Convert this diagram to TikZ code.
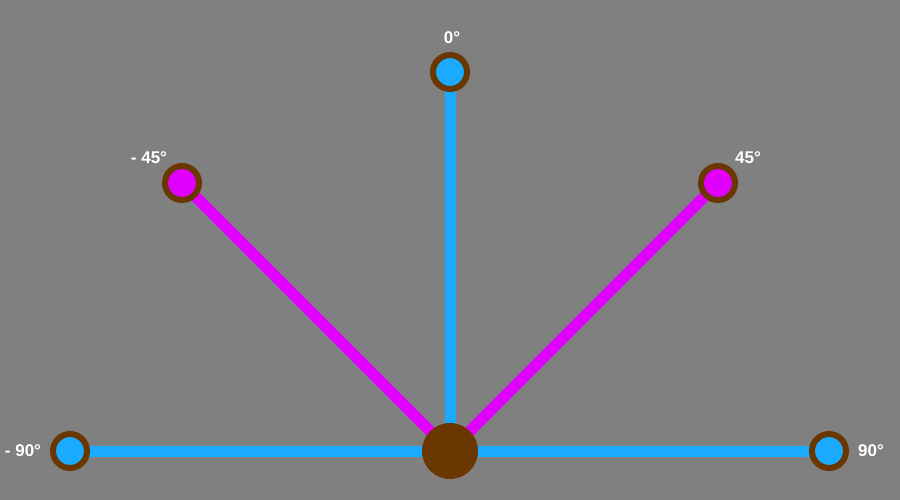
\documentclass[tikz,border=0pt]{standalone}
\usepackage{fontspec}
\setmainfont{Liberation Sans}
\definecolor{bg}{RGB}{128,128,128}
\definecolor{armblue}{RGB}{26,170,255}
\definecolor{armmag}{RGB}{225,0,255}
\definecolor{hub}{RGB}{107,55,0}
\begin{document}
\begin{tikzpicture}[x=1pt,y=-1pt,
  arm/.style={line width=11pt},
  endpt/.style={circle,draw=hub,line width=6pt,minimum size=34pt,inner sep=0pt},
  lbl/.style={text=white,font=\bfseries\fontsize{17pt}{17pt}\selectfont,inner sep=0pt}]
\fill[bg] (0,0) rectangle (900,500);
\useasboundingbox (0,0) rectangle (900,500);
\coordinate (c) at (450,451);
\coordinate (p0) at (450,72);
\coordinate (pm45) at (182,183);
\coordinate (p45) at (718,183);
\coordinate (pm90) at (70,451);
\coordinate (p90) at (829,451);
\draw[arm,armblue] (c) -- (p0);
\draw[arm,armblue] (pm90) -- (p90);
\draw[arm,armmag] (c) -- (pm45);
\draw[arm,armmag] (c) -- (p45);
\node[endpt,fill=armblue] (n0) at (p0) {};
\node[endpt,fill=armmag] (nm45) at (pm45) {};
\node[endpt,fill=armmag] (n45) at (p45) {};
\node[endpt,fill=armblue] (nm90) at (pm90) {};
\node[endpt,fill=armblue] (n90) at (p90) {};
\node[circle,fill=hub,minimum size=56pt,inner sep=0pt] (hubnode) at (c) {};
\node[lbl] (l0) at (452,38) {0°};
\node[lbl] (lm45) at (149,158) {- 45°};
\node[lbl] (l45) at (748,158) {45°};
\node[lbl] (lm90) at (23,451) {- 90°};
\node[lbl] (l90) at (871,451) {90°};
\end{tikzpicture}
\end{document}
